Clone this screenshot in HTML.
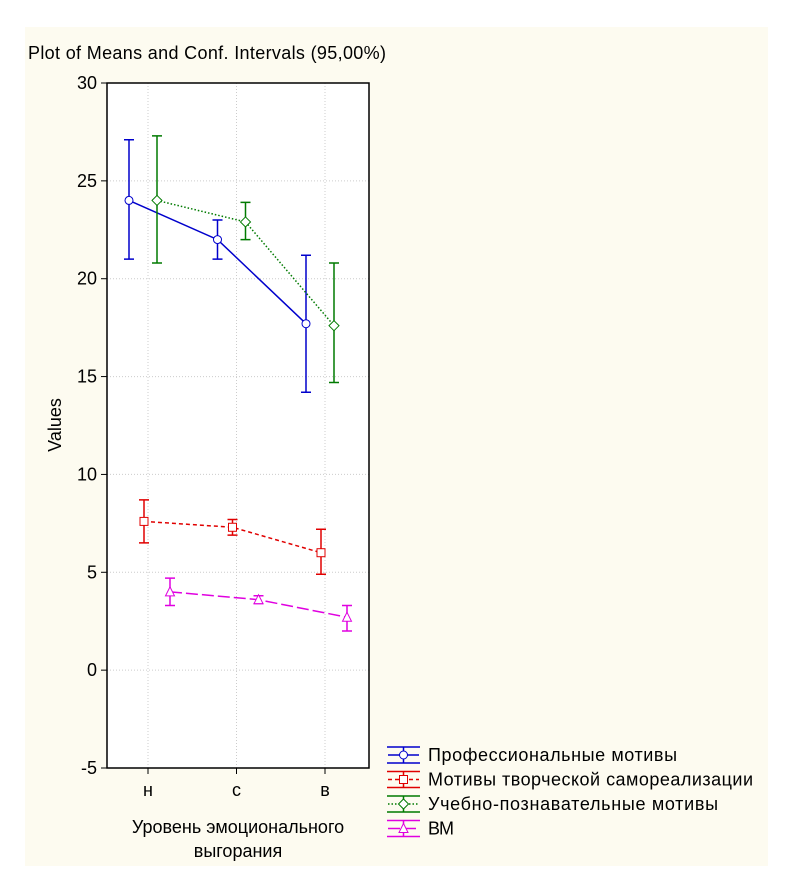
<!DOCTYPE html>
<html><head><meta charset="utf-8"><style>
body{margin:0;background:#fff;width:787px;height:880px;overflow:hidden}
text{font-family:"Liberation Sans",sans-serif;fill:#000}
</style></head><body>
<svg width="787" height="880">
<rect x="25" y="27" width="743" height="839" fill="#fdfbf0"/>
<text x="28" y="59" font-size="18" textLength="358">Plot of Means and Conf. Intervals (95,00%)</text>
<rect x="107" y="83" width="262" height="685" fill="#fff"/>
<g id="grid"></g><g id="axes"></g><g id="series"></g>
<rect x="107" y="83" width="262" height="685" fill="none" stroke="#000" stroke-width="1.5"/>
<text transform="translate(61,425) rotate(-90)" text-anchor="middle" font-size="18">Values</text>
<text x="238" y="833" text-anchor="middle" font-size="18">Уровень эмоционального</text>
<text x="238" y="857" text-anchor="middle" font-size="18">выгорания</text>
<g id="legend"></g>
</svg>
<script>
const categories=["н","с","в"];
const seriesNames=["Профессиональные мотивы","Мотивы творческой самореализации","Учебно-познавательные мотивы","ВМ"];
const profMean=[24,22,17.7], profLo=[21,21,14.2], profHi=[27.1,23,21.2];
const creaMean=[7.6,7.3,6.0], creaLo=[6.5,6.9,4.9], creaHi=[8.7,7.7,7.2];
const eduMean=[24,22.9,17.6], eduLo=[20.8,22,14.7], eduHi=[27.3,23.9,20.8];
const vmMean=[4.0,3.6,2.7], vmLo=[3.3,3.4,2.0], vmHi=[4.7,3.8,3.3];
const yTicks=[-5,0,5,10,15,20,25,30];
const NS="http://www.w3.org/2000/svg";
function y(v){return 768-(v+5)*(685/35);}
function x(i){return 148+i*88.5;}
function mk(t,a,p){const e=document.createElementNS(NS,t);for(const k in a)e.setAttribute(k,a[k]);p.appendChild(e);return e;}
const grid=document.getElementById('grid'),axes=document.getElementById('axes'),ser=document.getElementById('series'),leg=document.getElementById('legend');
yTicks.forEach(t=>{
 const l=mk('line',{x1:107,x2:369,y1:y(t),y2:y(t),stroke:'#ccc','stroke-dasharray':'1,2'},grid);
 
 const k=mk('line',{x1:101,x2:107,y1:y(t),y2:y(t),stroke:'#000'},axes);
 
 const tx=mk('text',{x:97,y:y(t)+6,'text-anchor':'end','font-size':18},axes);tx.textContent=t;
 
});
categories.forEach((c,i)=>{
 const l=mk('line',{x1:x(i),x2:x(i),y1:83,y2:768,stroke:'#ccc','stroke-dasharray':'1,2'},grid);
 
 const k=mk('line',{x1:x(i),x2:x(i),y1:768,y2:774,stroke:'#000'},axes);
 
 const tx=mk('text',{x:x(i),y:796,'text-anchor':'middle','font-size':18},axes);tx.textContent=c;
 
});
const S=[
 {m:profMean,lo:profLo,hi:profHi,c:'#0000cc',off:-19,dash:'',mark:'circle'},
 {m:creaMean,lo:creaLo,hi:creaHi,c:'#e00000',off:-4,dash:'4,3',mark:'square'},
 {m:eduMean,lo:eduLo,hi:eduHi,c:'#007a00',off:9,dash:'1.5,2',mark:'diamond'},
 {m:vmMean,lo:vmLo,hi:vmHi,c:'#e000e0',off:22,dash:'12,4',mark:'tri'}];
const legW=[249,325,290,26];
function marker(t,cx,cy,c,p){
 let e;
 if(t==='circle')e=mk('circle',{cx,cy,r:4,fill:'#fff',stroke:c},p);
 else if(t==='square')e=mk('rect',{x:cx-4,y:cy-4,width:8,height:8,fill:'#fff',stroke:c},p);
 else if(t==='diamond')e=mk('polygon',{points:`${cx},${cy-5} ${cx+5},${cy} ${cx},${cy+5} ${cx-5},${cy}`,fill:'#fff',stroke:c},p);
 else e=mk('polygon',{points:`${cx},${cy-5} ${cx+4.5},${cy+4} ${cx-4.5},${cy+4}`,fill:'#fff',stroke:c},p);
 return e;}
S.forEach((s,si)=>{
 const g=mk('g',{},ser);
 
 const pts=s.m.map((v,i)=>(x(i)+s.off)+','+y(v)).join(' ');
 const pl=mk('polyline',{points:pts,fill:'none',stroke:s.c,'stroke-width':1.5,'stroke-dasharray':s.dash},g);
 
 s.m.forEach((v,i)=>{
  const cx=x(i)+s.off;
  const eb=mk('path',{d:`M${cx},${y(s.lo[i])}V${y(s.hi[i])}M${cx-5},${y(s.lo[i])}H${cx+5}M${cx-5},${y(s.hi[i])}H${cx+5}`,stroke:s.c,'stroke-width':1.5,fill:'none'},g);
  
  const mm=marker(s.mark,cx,y(v),s.c,g);
  
 });
 const ly=755+si*24.5;
 const lg=mk('g',{},leg);
 
 mk('path',{d:`M387,${ly-8}H420M387,${ly+8}H420M403.5,${ly-8}V${ly+8}`,stroke:s.c,'stroke-width':1.5,fill:'none'},lg);
 mk('path',{d:`M388,${ly}H419`,stroke:s.c,'stroke-width':1.5,fill:'none','stroke-dasharray':s.dash},lg);
 marker(s.mark,403.5,ly,s.c,lg);
 const tx=mk('text',{x:428,y:ly+6,'font-size':18,textLength:legW[si]},lg);tx.textContent=seriesNames[si];
});
</script>
</body></html>
